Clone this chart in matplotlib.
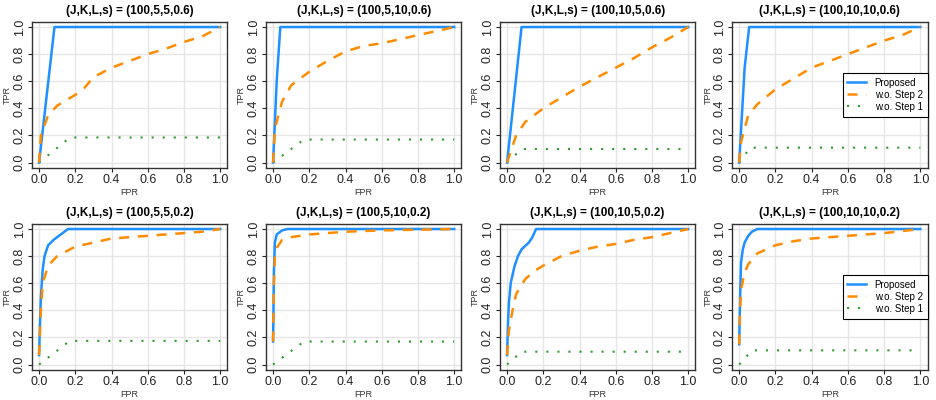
import matplotlib.pyplot as plt

plt.rcParams['font.family'] = ['Liberation Sans', 'DejaVu Sans']

titles = [
    "(J,K,L,s) = (100,5,5,0.6)", "(J,K,L,s) = (100,5,10,0.6)",
    "(J,K,L,s) = (100,10,5,0.6)", "(J,K,L,s) = (100,10,10,0.6)",
    "(J,K,L,s) = (100,5,5,0.2)", "(J,K,L,s) = (100,5,10,0.2)",
    "(J,K,L,s) = (100,10,5,0.2)", "(J,K,L,s) = (100,10,10,0.2)",
]

# Proposed (FPR, TPR)
prop_fpr = [
    [0, 0.085, 1.0],
    [0, 0.02, 0.04, 1.0],
    [0, 0.08, 1.0],
    [0, 0.03, 0.055, 1.0],
    [0, 0.005, 0.01, 0.02, 0.03, 0.05, 0.08, 0.12, 0.16, 1.0],
    [0, 0.005, 0.01, 0.02, 0.05, 0.08, 1.0],
    [0, 0.005, 0.01, 0.02, 0.04, 0.06, 0.08, 0.12, 0.14, 0.16, 1.0],
    [0, 0.005, 0.01, 0.02, 0.03, 0.05, 0.07, 0.1, 1.0],
]
prop_tpr = [
    [0, 1.0, 1.0],
    [0, 0.6, 1.0, 1.0],
    [0, 1.0, 1.0],
    [0, 0.7, 1.0, 1.0],
    [0.07, 0.3, 0.5, 0.7, 0.8, 0.88, 0.92, 0.96, 1.0, 1.0],
    [0.17, 0.7, 0.9, 0.96, 0.99, 1.0, 1.0],
    [0.07, 0.3, 0.45, 0.6, 0.72, 0.8, 0.85, 0.9, 0.94, 1.0, 1.0],
    [0.15, 0.5, 0.75, 0.85, 0.9, 0.95, 0.98, 1.0, 1.0],
]

# w.o. Step 2
s2_fpr = [
    [0, 0.01, 0.05, 0.1, 0.2, 0.25, 0.3, 0.4, 0.5, 0.6, 0.7, 0.8, 0.9, 1.0],
    [0, 0.01, 0.05, 0.1, 0.2, 0.3, 0.4, 0.5, 0.6, 0.7, 0.8, 0.9, 1.0],
    [0, 0.05, 0.1, 0.2, 0.3, 0.4, 0.5, 0.6, 0.7, 0.8, 0.9, 1.0],
    [0, 0.01, 0.05, 0.1, 0.2, 0.3, 0.4, 0.5, 0.6, 0.7, 0.8, 0.9, 1.0],
    [0, 0.01, 0.02, 0.05, 0.1, 0.2, 0.3, 0.4, 0.5, 0.6, 0.7, 0.8, 0.9, 1.0],
    [0, 0.005, 0.01, 0.02, 0.05, 0.1, 0.2, 0.4, 0.6, 1.0],
    [0, 0.01, 0.03, 0.05, 0.1, 0.15, 0.2, 0.3, 0.4, 0.5, 0.6, 0.7, 0.8, 0.9, 1.0],
    [0, 0.005, 0.01, 0.03, 0.05, 0.1, 0.2, 0.3, 0.4, 0.5, 0.6, 0.7, 0.8, 1.0],
]
s2_tpr = [
    [0, 0.2, 0.35, 0.42, 0.5, 0.55, 0.63, 0.7, 0.75, 0.8, 0.84, 0.89, 0.93, 1.0],
    [0, 0.25, 0.45, 0.57, 0.67, 0.75, 0.82, 0.86, 0.88, 0.91, 0.94, 0.97, 1.0],
    [0, 0.2, 0.3, 0.4, 0.48, 0.56, 0.63, 0.7, 0.77, 0.85, 0.92, 1.0],
    [0, 0.15, 0.35, 0.43, 0.54, 0.62, 0.7, 0.75, 0.8, 0.85, 0.9, 0.94, 1.0],
    [0.07, 0.4, 0.6, 0.73, 0.8, 0.87, 0.9, 0.93, 0.94, 0.95, 0.96, 0.97, 0.98, 1.0],
    [0.17, 0.6, 0.8, 0.86, 0.92, 0.94, 0.96, 0.98, 0.99, 1.0],
    [0.07, 0.25, 0.4, 0.52, 0.63, 0.69, 0.73, 0.8, 0.84, 0.87, 0.89, 0.92, 0.94, 0.97, 1.0],
    [0.15, 0.4, 0.55, 0.68, 0.74, 0.82, 0.88, 0.91, 0.93, 0.94, 0.95, 0.96, 0.97, 1.0],
]

# w.o. Step 1
s1_fpr = [
    [0, 0.17, 1.0],
    [0, 0.17, 1.0],
    [0, 0.08, 1.0],
    [0, 0.06, 1.0],
    [0, 0.17, 1.0],
    [0, 0.17, 1.0],
    [0, 0.08, 1.0],
    [0, 0.07, 1.0],
]
s1_tpr = [
    [0, 0.185, 0.185],
    [0, 0.17, 0.17],
    [0, 0.1, 0.1],
    [0, 0.11, 0.11],
    [0, 0.175, 0.175],
    [0, 0.17, 0.17],
    [0, 0.095, 0.095],
    [0, 0.105, 0.105],
]

fig = plt.figure(figsize=(9.36, 4.0), dpi=100)
lefts = [0.034, 0.284, 0.534, 0.782]
bottoms = [0.58, 0.075]
ticks = [0, 0.2, 0.4, 0.6, 0.8, 1.0]
tick_labels = ['0.0', '0.2', '0.4', '0.6', '0.8', '1.0']

for i in range(8):
    r, c = divmod(i, 4)
    ax = fig.add_axes([lefts[c], bottoms[r], 0.209, 0.366])
    for t in ticks:
        ax.axhline(t, color='#e6e6e6', lw=1.0, zorder=0)
        ax.axvline(t, color='#e6e6e6', lw=1.0, zorder=0)
    ax.plot(prop_fpr[i], prop_tpr[i], color='#1E90FF', lw=1.8, label='Proposed', zorder=3)
    ax.plot(s2_fpr[i], s2_tpr[i], color='#FF8C00', lw=1.8, dashes=(4, 3.5),
            label='w.o. Step 2', zorder=4)
    ax.plot(s1_fpr[i], s1_tpr[i], color='#2E9B2E', lw=1.5, dashes=(1, 4.3),
            label='w.o. Step 1', zorder=2)
    ax.set_xlim(-0.04, 1.04)
    ax.set_ylim(-0.04, 1.04)
    ax.set_xticks(ticks)
    ax.set_yticks(ticks)
    ax.set_xticklabels(tick_labels)
    ax.set_yticklabels(tick_labels, rotation=90, va='center')
    ax.tick_params(labelsize=9, length=3, width=0.8, pad=1.5, colors='#222222')
    ax.set_xlabel('FPR', fontsize=6.5, labelpad=1, color='#333333')
    ax.set_ylabel('TPR', fontsize=6.5, labelpad=1, color='#333333')
    ax.set_title(titles[i], fontsize=8.5, fontweight='bold', pad=5.5)
    for s in ax.spines.values():
        s.set_color('#333333')
        s.set_linewidth(1.0)
    if c == 3:
        leg = ax.legend(loc='center right', fontsize=7, fancybox=False, framealpha=1,
                        edgecolor='black', handlelength=1.9, handletextpad=0.9,
                        borderaxespad=0, labelspacing=0.2, borderpad=0.5)
        leg.get_frame().set_linewidth(0.8)

fig.savefig('out.png', dpi=100)
